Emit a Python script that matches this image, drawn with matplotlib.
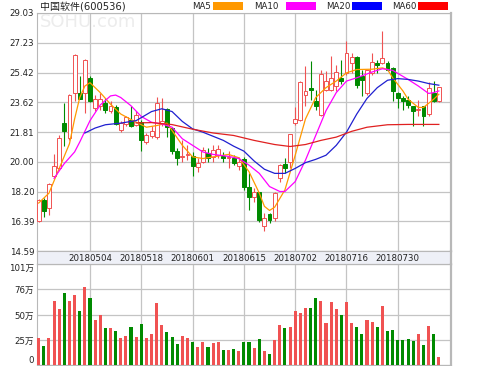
import matplotlib
matplotlib.use("Agg")
import matplotlib.pyplot as plt
from matplotlib.patches import Rectangle
import numpy as np

plt.rcParams['font.family'] = ['DejaVu Sans', 'Noto Sans CJK SC']

# ---- data (price in yuan, volume in 万 shares) ----
opens = [16.42, 17.66, 17.19, 19.16, 19.63, 22.36, 21.45, 24.20, 24.19, 24.20,
         25.10, 23.27, 23.36, 23.57, 23.06, 23.33, 21.95, 22.31, 22.56, 22.25,
         22.39, 21.19, 21.55, 21.51, 22.30, 23.20, 22.05, 20.63, 20.32, 20.43,
         20.37, 19.68, 20.02, 20.53, 20.32, 20.43, 20.37, 20.25, 20.23, 19.72,
         20.20, 18.50, 17.86, 18.14, 16.11, 16.84, 16.58, 19.01, 19.88, 20.02,
         22.36, 22.56, 24.08, 24.46, 23.67, 22.86, 24.38, 24.38, 24.58, 25.10,
         25.39, 26.00, 26.34, 25.19, 24.18, 25.39, 26.00, 26.00, 26.00, 25.70,
         24.18, 23.88, 23.77, 23.36, 23.16, 23.36, 22.90, 24.18, 23.67]
highs = [17.75, 17.80, 18.71, 20.48, 21.65, 23.58, 24.09, 26.52, 25.19, 26.25,
         25.20, 24.07, 24.18, 23.87, 23.67, 23.45, 22.45, 22.80, 23.36, 23.06,
         22.56, 21.75, 22.20, 23.94, 23.88, 23.25, 22.10, 20.84, 21.34, 21.00,
         20.60, 20.23, 20.93, 20.83, 21.04, 21.04, 20.60, 20.63, 20.43, 20.32,
         20.30, 19.32, 18.40, 18.20, 16.88, 16.92, 18.14, 19.86, 20.23, 21.70,
         23.33, 24.88, 25.84, 26.10, 24.38, 25.55, 25.49, 26.40, 25.90, 26.20,
         27.32, 26.61, 26.40, 25.60, 25.60, 26.60, 26.20, 27.92, 26.10, 25.75,
         24.25, 23.97, 23.97, 23.40, 23.77, 23.40, 24.85, 24.88, 24.54]
lows = [16.35, 16.68, 16.79, 19.12, 19.56, 20.94, 21.35, 23.70, 23.84, 22.97,
        23.60, 23.06, 23.16, 22.96, 22.96, 22.25, 21.84, 22.15, 22.10, 22.15,
        20.63, 21.10, 21.45, 21.41, 22.20, 21.50, 20.50, 19.82, 20.00, 20.10,
        19.15, 19.41, 19.92, 19.96, 20.02, 20.23, 20.00, 19.62, 19.82, 19.52,
        18.30, 17.08, 17.59, 16.37, 15.83, 16.28, 16.43, 18.80, 19.32, 19.62,
        22.25, 22.45, 23.36, 23.77, 23.16, 22.76, 24.28, 24.28, 24.28, 24.70,
        25.29, 25.39, 24.48, 23.97, 24.08, 25.29, 25.39, 25.95, 25.49, 23.67,
        23.27, 23.16, 23.27, 22.20, 22.76, 22.20, 22.80, 23.60, 23.65]
closes = [17.68, 17.00, 18.65, 19.73, 21.43, 21.86, 24.03, 26.48, 23.84, 26.20,
          23.68, 23.81, 23.81, 23.16, 23.41, 22.31, 22.36, 22.72, 22.15, 22.86,
          21.34, 21.65, 21.86, 23.58, 22.45, 22.10, 20.63, 20.23, 20.38, 20.50,
          19.72, 19.92, 20.69, 20.23, 20.69, 20.78, 20.23, 20.32, 19.92, 20.02,
          18.50, 17.89, 18.14, 16.45, 16.58, 16.45, 18.10, 19.82, 19.62, 21.69,
          22.62, 24.82, 24.28, 24.34, 23.36, 25.35, 24.88, 25.09, 25.46, 24.92,
          26.61, 26.34, 24.68, 24.99, 25.60, 26.06, 25.90, 26.31, 25.60, 24.28,
          23.88, 23.67, 23.47, 23.06, 23.22, 22.76, 24.45, 23.67, 24.52]
volumes = [27, 19, 27, 64, 56, 72, 64, 70, 54, 78,
           67, 45, 50, 37, 37, 34, 27, 29, 38, 28,
           41, 27, 31, 62, 40, 33, 28, 21, 29, 27,
           23, 18, 23, 18, 22, 23, 15, 15, 16, 14,
           23, 23, 17, 26, 14, 11, 25, 40, 37, 38,
           54, 52, 57, 57, 67, 64, 42, 63, 56, 50,
           63, 42, 38, 31, 45, 43, 38, 59, 34, 35,
           25, 25, 26, 24, 31, 20, 39, 31, 8]

# moving averages as drawn (candle index -> value)
ma5_idx = [0, 2, 4, 6, 7, 8, 9, 10, 12, 14, 16, 19, 21, 23, 25, 26, 28, 30, 32, 34,
           37, 39, 41, 43, 44, 45, 46, 48, 50, 52, 54, 56, 58, 60, 62, 65, 67, 68,
           69, 71, 72, 74, 75, 77, 78]
ma5_val = [17.5, 18.1, 19.6, 21.1, 22.6, 23.9, 24.6, 24.8, 24.2, 23.5, 22.9, 22.4,
           22.1, 22.2, 22.35, 21.9, 21.0, 20.3, 20.2, 20.3, 20.45, 20.25, 19.4,
           18.1, 17.3, 17.05, 17.25, 18.3, 20.4, 22.6, 23.9, 24.5, 24.9, 25.4,
           25.6, 25.62, 25.7, 25.6, 25.1, 24.3, 23.8, 23.3, 23.3, 23.8, 24.1]
ma10_idx = [3, 5, 7, 8, 10, 12, 14, 15, 16, 18, 20, 22, 24, 26, 28, 30, 32, 34, 37,
            39, 41, 43, 45, 47, 48, 50, 52, 54, 56, 58, 60, 62, 65, 67, 69, 72, 74,
            76, 77, 78]
ma10_val = [19.0, 19.9, 20.6, 21.2, 22.5, 23.45, 24.0, 24.05, 23.9, 23.4, 22.75,
            22.4, 22.3, 22.1, 21.4, 21.0, 20.6, 20.45, 20.33, 20.2, 19.8, 19.3,
            18.5, 18.2, 18.2, 18.8, 20.1, 21.6, 23.1, 24.2, 24.9, 25.1, 25.45,
            25.65, 25.55, 25.0, 24.6, 24.15, 24.2, 24.3]
ma20_idx = [9, 11, 13, 16, 19, 22, 24, 26, 28, 30, 32, 34, 36, 38, 40, 42, 44, 46,
            48, 50, 52, 54, 56, 58, 60, 62, 64, 66, 68, 70, 72, 74, 76, 78]
ma20_val = [21.75, 22.05, 22.25, 22.35, 22.5, 23.05, 23.22, 23.05, 22.45, 22.0,
            21.8, 21.55, 21.3, 20.95, 20.65, 20.05, 19.55, 19.3, 19.3, 19.6, 19.95,
            20.15, 20.4, 21.0, 21.8, 22.9, 23.85, 24.5, 24.95, 25.05, 25.0, 24.9,
            24.75, 24.65]
ma60_idx = [19, 22, 26, 30, 34, 38, 42, 46, 49, 52, 55, 58, 61, 64, 68, 72, 78]
ma60_val = [22.36, 22.38, 22.26, 21.98, 21.75, 21.6, 21.3, 21.05, 20.93, 21.05,
            21.3, 21.5, 21.85, 22.1, 22.25, 22.27, 22.27]

price_ticks = [14.59, 16.39, 18.20, 20.00, 21.81, 23.62, 25.42, 27.23, 29.03]
vol_ticks = [0, 25, 50, 76, 101]
vol_labels = ['0', '25万', '50万', '76万', '101万']
date_pos = [10, 20, 30, 40, 50, 60, 70]
date_labels = ['20180504', '20180518', '20180601', '20180615',
               '20180702', '20180716', '20180730']

RED = '#f05252'
GREEN = '#008a00'
GRID = '#c4c4c4'

W, H = 499, 366
fig = plt.figure(figsize=(W / 100, H / 100), dpi=100)

def box(x0, y0, x1, y1):
    # pixel box -> figure rect
    return [x0 / W, 1 - y1 / H, (x1 - x0) / W, (y1 - y0) / H]

xlim = (-0.33, 80.37)
x = np.arange(len(closes))
up = np.array(closes) >= np.array(opens)

# watermark
fig.text(40 / W, 1 - 27 / H, 'SOHU.com', fontsize=13, color='#ececec',
         ha='left', va='baseline', zorder=0)

# ---- price panel ----
ax = fig.add_axes(box(37, 13, 451, 251))
ax.patch.set_alpha(0)
ax.set_xlim(*xlim)
ax.set_ylim(14.59, 29.03)
ax.set_yticks(price_ticks)
ax.set_yticklabels(['%.2f' % t for t in price_ticks])
ax.set_xticks(date_pos)
ax.set_xticklabels([])
ax.grid(True, color=GRID, linewidth=0.9)
ax.set_axisbelow(True)
ax.tick_params(length=0, labelsize=6.2, colors='#222222', pad=2)
for s in ax.spines.values():
    s.set_color('#b8b8b8')
ax.spines['right'].set_linewidth(1.6)

for i in x:
    c = RED if up[i] else GREEN
    ax.vlines(i, lows[i], highs[i], color=c, linewidth=0.8, zorder=2)
    lo = min(opens[i], closes[i])
    h = max(abs(closes[i] - opens[i]), 0.03)
    ax.add_patch(Rectangle((i - 0.38, lo), 0.76, h,
                           facecolor='white' if up[i] else GREEN,
                           edgecolor=c, linewidth=0.7, zorder=3))

ax.plot(ma5_idx, ma5_val, color='#ff9900', linewidth=0.9, zorder=4)
ax.plot(ma10_idx, ma10_val, color='#ff00ff', linewidth=0.9, zorder=4)
ax.plot(ma20_idx, ma20_val, color='#2020d0', linewidth=0.9, zorder=4)
ax.plot(ma60_idx, ma60_val, color='#e02020', linewidth=0.9, zorder=4)

# ---- date strip ----
axd = fig.add_axes(box(37, 251, 451, 264))
axd.set_xlim(*xlim)
axd.set_ylim(0, 1)
axd.set_facecolor('#eef0f7')
axd.set_xticks([])
axd.set_yticks([])
for s in axd.spines.values():
    s.set_color('#b8b8b8')
axd.spines['right'].set_linewidth(1.6)
for p, lab in zip(date_pos, date_labels):
    axd.text(p, 0.45, lab, ha='center', va='center', fontsize=6.2, color='#222222')

# ---- volume panel ----
axv = fig.add_axes(box(37, 264, 451, 365))
axv.set_xlim(*xlim)
axv.set_ylim(0, 101)
axv.set_yticks(vol_ticks)
axv.set_yticklabels(vol_labels)
axv.set_xticks(date_pos)
axv.set_xticklabels([])
axv.grid(True, color=GRID, linewidth=0.9)
axv.set_axisbelow(True)
axv.tick_params(length=0, labelsize=6.2, colors='#222222', pad=2)
axv.get_yticklabels()[0].set_va('bottom')
axv.get_yticklabels()[-1].set_va('top')
for s in axv.spines.values():
    s.set_color('#b8b8b8')
axv.spines['right'].set_linewidth(1.6)
axv.bar(x, volumes, width=0.6, color=[RED if u else GREEN for u in up], zorder=3)

# ---- title and legend ----
fig.text(40 / W, 1 - 6.5 / H, '中国软件(600536)', fontsize=7.2, color='#222222',
         ha='left', va='center')
legend = [('MA5', 192, 213, '#ff9900'), ('MA10', 254, 286, '#ff00ff'),
          ('MA20', 326, 352, '#0000ff'), ('MA60', 392, 418, '#ff0000')]
for name, tx, rx, col in legend:
    fig.text(tx / W, 1 - 6.5 / H, name, fontsize=6.2, color='#222222',
             ha='left', va='center')
    fig.patches.append(Rectangle((rx / W, 1 - 10 / H), 30 / W, 8 / H,
                                 transform=fig.transFigure, facecolor=col,
                                 edgecolor='none'))

fig.savefig('out.png', dpi=100)
